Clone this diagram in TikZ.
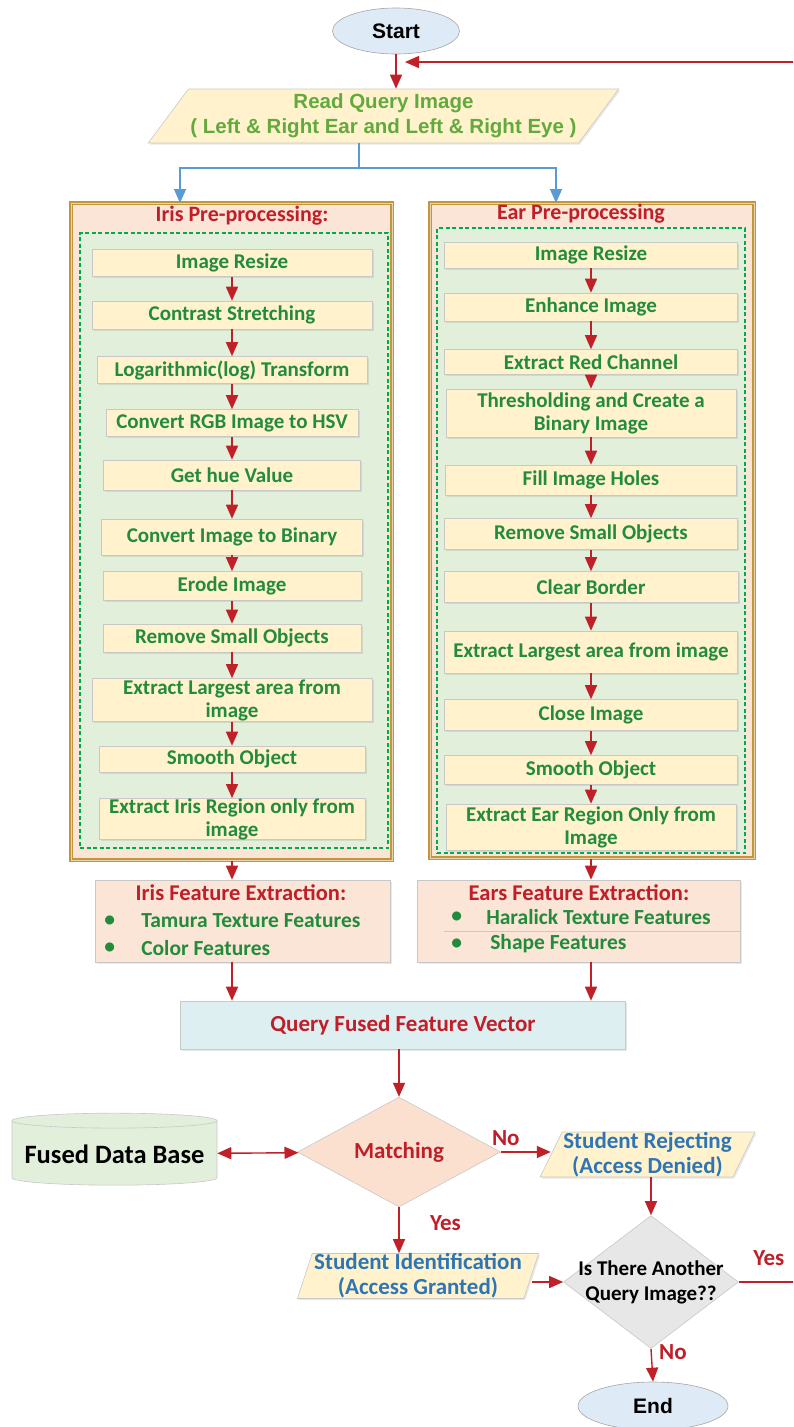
\documentclass[tikz,border=0pt]{standalone}
\usepackage{fontspec}
\setmainfont{Carlito}
\newfontfamily\arialsans{Liberation Sans}
\usetikzlibrary{arrows.meta,positioning,shapes.geometric,shadows}

\definecolor{stepgreen}{RGB}{34,139,60}
\definecolor{readgreen}{RGB}{98,170,62}
\definecolor{titlered}{RGB}{192,30,40}
\definecolor{arrowred}{RGB}{192,32,40}
\definecolor{splitblue}{RGB}{91,155,213}
\definecolor{ioblue}{RGB}{46,117,182}
\definecolor{stepyellow}{RGB}{255,242,204}
\definecolor{boxgray}{RGB}{200,200,200}
\definecolor{framesalmon}{RGB}{251,229,214}
\definecolor{framegold}{RGB}{196,150,60}
\definecolor{innergreen}{RGB}{226,239,218}
\definecolor{dashgreen}{RGB}{0,170,80}
\definecolor{vectorcyan}{RGB}{222,239,242}
\definecolor{termblue}{RGB}{222,235,247}
\definecolor{decgray}{RGB}{231,231,231}
\definecolor{decsalmon}{RGB}{251,224,208}

\begin{document}
\begin{tikzpicture}[x=1pt,y=-1pt,>={Triangle[length=14pt,width=12pt]},semithick]
  \tikzstyle{softshadow}=[drop shadow={shadow xshift=1.5pt,shadow yshift=-1.5pt,opacity=0.18}]
  \tikzstyle{procbox}=[rectangle,fill=stepyellow,draw=boxgray,softshadow,text=stepgreen,align=center,
    inner sep=0pt,font=\fontsize{21}{23}\selectfont\bfseries]
  \tikzstyle{frame}=[rectangle,fill=framesalmon,draw=framegold,line width=1.2pt,
    double=framegold!40!white,double distance=0.9pt]
  \tikzstyle{dashframe}=[rectangle,fill=innergreen,draw=dashgreen,line width=1.4pt,
    dash pattern=on 4pt off 2.5pt]
  \tikzstyle{frametitle}=[text=titlered,font=\fontsize{22}{26}\selectfont\bfseries]
  \tikzstyle{featbox}=[rectangle,fill=framesalmon,draw=boxgray,softshadow]
  \tikzstyle{featitem}=[anchor=west,text=stepgreen,inner sep=0pt,font=\fontsize{21.5}{24}\selectfont\bfseries]
  \tikzstyle{terminal}=[ellipse,fill=termblue,draw=gray!70,font=\arialsans\fontsize{21}{24}\selectfont\bfseries]
  \tikzstyle{io}=[trapezium,trapezium stretches=true,fill=stepyellow,draw=boxgray,softshadow,align=center,
    inner sep=0pt,text=ioblue,font=\fontsize{23}{25}\selectfont\bfseries]
  \tikzstyle{decision}=[diamond,draw=boxgray,align=center,inner sep=0pt]
  \tikzstyle{flow}=[->,color=arrowred,line width=1.4pt]
  \tikzstyle{splitflow}=[->,color=splitblue,line width=1.4pt]
  \tikzstyle{lbl}=[text=titlered,font=\fontsize{23}{26}\selectfont\bfseries]

  \useasboundingbox (0,0) rectangle (793,1427);
  \clip (0,0) rectangle (793,1427);

  % start and query input
  \node[terminal,minimum width=127pt,minimum height=46pt] (start) at (396,31) {Start};
  \node[io,trapezium left angle=48,trapezium right angle=132,minimum width=473pt,minimum height=54pt,
    text=readgreen,font=\arialsans\fontsize{20.5}{25}\selectfont\bfseries] (read) at (383.5,116)
    {Read Query Image\\( Left \& Right Ear and Left \& Right Eye )};

  % pre-processing frames
  \node[frame,minimum width=321pt,minimum height=657pt] (irisframe) at (231.5,531.5) {};
  \node[dashframe,minimum width=308pt,minimum height=615pt] (irisinner) at (234,540.5) {};
  \node[frametitle] (iristitle) at (242,216) {Iris Pre-processing:};
  \node[frame,minimum width=324pt,minimum height=655pt] (earframe) at (592,530.5) {};
  \node[dashframe,minimum width=308pt,minimum height=625pt] (earinner) at (591,540.5) {};
  \node[frametitle] (eartitle) at (581,214) {Ear Pre-processing};

  % iris steps
  \node[procbox,minimum width=280pt,minimum height=27pt] (i1) at (232,263) {Image Resize};
  \node[procbox,minimum width=280pt,minimum height=28pt] (i2) at (232,315) {Contrast Stretching};
  \node[procbox,minimum width=270pt,minimum height=27pt] (i3) at (232,370) {Logarithmic(log) Transform};
  \node[procbox,minimum width=252pt,minimum height=27pt] (i4) at (232,423) {Convert RGB Image to HSV};
  \node[procbox,minimum width=257pt,minimum height=30pt] (i5) at (232,475) {Get hue Value};
  \node[procbox,minimum width=261pt,minimum height=36pt] (i6) at (232,537) {Convert Image to Binary};
  \node[procbox,minimum width=258pt,minimum height=29pt] (i7) at (232,586) {Erode Image};
  \node[procbox,minimum width=258pt,minimum height=28pt] (i8) at (232,638) {Remove Small Objects};
  \node[procbox,minimum width=280pt,minimum height=43pt] (i9) at (232,700) {Extract Largest area from\\image};
  \node[procbox,minimum width=266pt,minimum height=26pt] (i10) at (232,759) {Smooth Object};
  \node[procbox,minimum width=266pt,minimum height=41pt] (i11) at (232,819) {Extract Iris Region only from\\image};

  % ear steps
  \node[procbox,minimum width=293pt,minimum height=26pt] (e1) at (591,255) {Image Resize};
  \node[procbox,minimum width=293pt,minimum height=28pt] (e2) at (591,307) {Enhance Image};
  \node[procbox,minimum width=293pt,minimum height=25pt] (e3) at (591,362) {Extract Red Channel};
  \node[procbox,minimum width=290pt,minimum height=48pt] (e4) at (591,413) {Thresholding and Create a\\Binary Image};
  \node[procbox,minimum width=291pt,minimum height=30pt] (e5) at (591,480) {Fill Image Holes};
  \node[procbox,minimum width=293pt,minimum height=31pt] (e6) at (591,534) {Remove Small Objects};
  \node[procbox,minimum width=294pt,minimum height=31pt] (e7) at (591,587) {Clear Border};
  \node[procbox,minimum width=293pt,minimum height=42pt] (e8) at (591,652) {Extract Largest area from image};
  \node[procbox,minimum width=293pt,minimum height=31pt] (e9) at (591,715) {Close Image};
  \node[procbox,minimum width=293pt,minimum height=29pt] (e10) at (591,770) {Smooth Object};
  \node[procbox,minimum width=290pt,minimum height=46pt] (e11) at (591,827) {Extract Ear Region Only from\\Image};

  % feature extraction
  \node[featbox,minimum width=295pt,minimum height=82pt] (irisfe) at (242.5,921) {};
  \node[frametitle,font=\fontsize{22.5}{26}\selectfont\bfseries] (irisfetitle) at (241,893) {Iris Feature Extraction:};
  \node[featitem] (ib1) at (104,921) {\textbullet};
  \node[featitem] (it1) at (141,921) {Tamura Texture Features};
  \node[featitem] (ib2) at (104,948) {\textbullet};
  \node[featitem] (it2) at (141,948) {Color Features};
  \node[featbox,minimum width=323pt,minimum height=82pt] (earfe) at (578.5,921) {};
  \node[frametitle,font=\fontsize{22.5}{26}\selectfont\bfseries] (earfetitle) at (579,893) {Ears Feature Extraction:};
  \node[featitem] (eb1) at (451,917) {\textbullet};
  \node[featitem] (et1) at (486,917) {Haralick Texture Features};
  \node[featitem] (eb2) at (451,944) {\textbullet};
  \node[featitem] (et2) at (490,944) {Shape Features};
  \draw[boxgray] ([shift={(27,10)}]earfe.west) -- ([shift={(0,10)}]earfe.east);

  \node[rectangle,fill=vectorcyan,draw=boxgray,softshadow,minimum width=445pt,minimum height=48pt,text=titlered,
    font=\fontsize{23}{26}\selectfont\bfseries] (qfv) at (403,1025) {Query Fused Feature Vector};

  % matching and decisions
  \node[decision,fill=decsalmon,minimum width=203pt,minimum height=105pt,text=titlered,
    font=\fontsize{23}{26}\selectfont\bfseries] (matching) at (399,1152) {Matching};
  \node[cylinder,shape border rotate=90,aspect=0.08,cylinder uses custom fill,cylinder body fill=innergreen,
    cylinder end fill=innergreen,draw=boxgray,minimum width=205pt,minimum height=72pt,
    font=\fontsize{26.5}{30}\selectfont\bfseries] (fuseddb) at (114.5,1154) {Fused Data Base};
  \node[io,trapezium left angle=64,trapezium right angle=116,minimum width=215pt,minimum height=45pt] (reject)
    at (647.5,1154.5) {Student Rejecting\\(Access Denied)};
  \node[decision,fill=decgray,aspect=1.3,inner xsep=-5pt,inner ysep=-10pt,minimum width=175pt,
    minimum height=133pt,font=\fontsize{21}{25}\selectfont\bfseries] (another) at (651,1282)
    {Is There Another\\Query Image??};
  \node[io,trapezium left angle=72,trapezium right angle=108,minimum width=242pt,minimum height=45pt] (ident)
    at (418,1276) {Student Identification\\(Access Granted)};
  \node[terminal,minimum width=150pt,minimum height=48pt] (end) at (653,1406) {End};

  % connectors
  \coordinate (split) at (359,168);
  \coordinate (irisin) at (180,203);
  \coordinate (earin) at (556,203);
  \coordinate (loopb) at (830,62);
  \coordinate (back) at (405,62);

  \draw[splitflow] (read.south -| split) -- (split) -| (irisin);
  \draw[splitflow] (split) -| (earin);

  \path[flow]
  (start) edge (read.north -| start)
  (i1) edge (i2) (i2) edge (i3) (i3) edge (i4) (i4) edge (i5) (i5) edge (i6)
  (i6) edge (i7) (i7) edge (i8) (i8) edge (i9) (i9) edge (i10) (i10) edge (i11)
  (e1) edge (e2) (e2) edge (e3) (e3) edge (e4) (e4) edge (e5) (e5) edge (e6)
  (e6) edge (e7) (e7) edge (e8) (e8) edge (e9) (e9) edge (e10) (e10) edge (e11)
  (irisframe.south -| i1) edge (irisfe.north -| i1)
  (earframe.south -| e1) edge (earfe.north -| e1)
  (irisfe.south -| i1) edge (qfv.north -| i1)
  (earfe.south -| e1) edge (qfv.north -| e1)
  (qfv.south -| matching) edge (matching);
  \draw[flow,<->] (fuseddb) -- (matching);
  \draw[flow] (matching.east) -- node[lbl,pos=0.1,above=2pt] {No} (matching.east -| reject.west);
  \draw[flow] (matching.south) -- node[lbl,pos=0.35,right=27pt] {Yes} (ident.north -| matching);
  \draw[flow] (reject.south -| another) -- (another.north);
  \draw[flow] (ident.east |- another.west) -- (another.west);
  \draw[flow] (another.south) -- node[lbl,pos=0.1,right=4pt] {No} (end.north);
  \draw[flow] (another.east) -- node[lbl,pos=0.33,above=12pt] {Yes} (another.east -| loopb) |- (back);
\end{tikzpicture}
\end{document}
